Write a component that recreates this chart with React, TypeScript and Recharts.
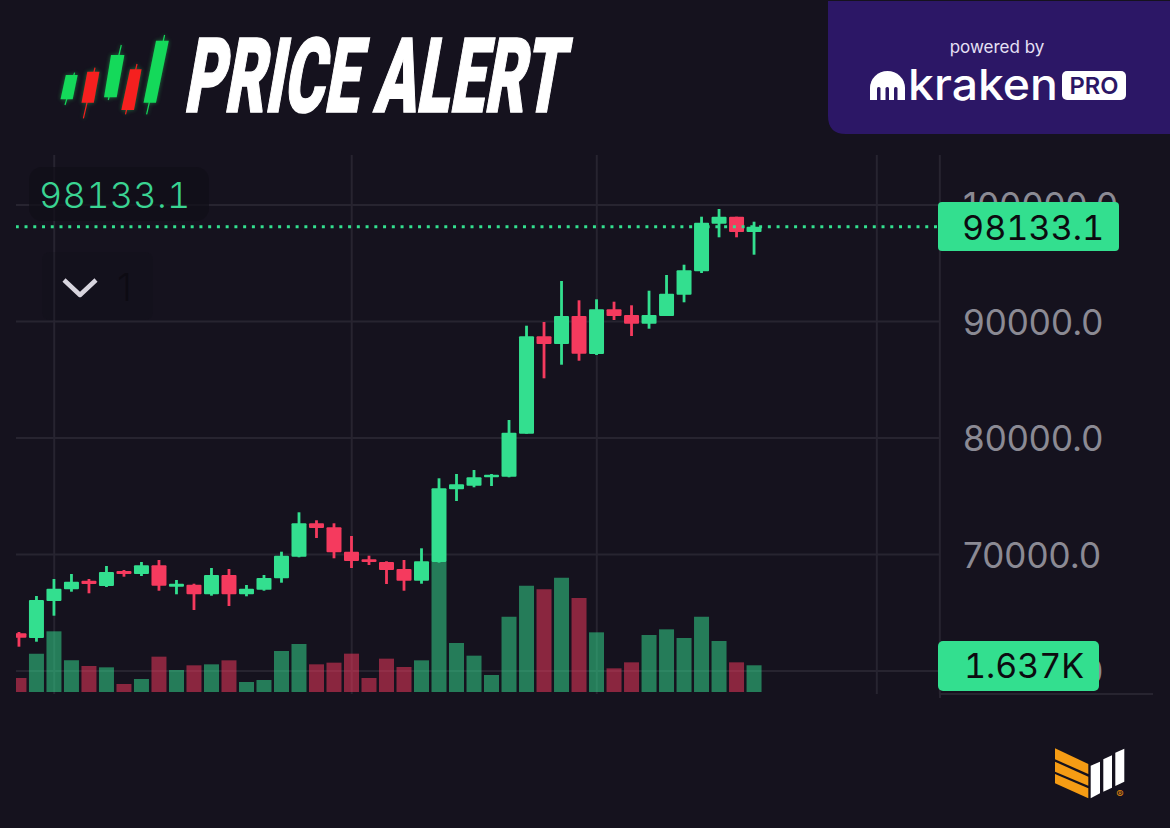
import { Bar, CartesianGrid, Cell, ComposedChart, ReferenceLine, XAxis, YAxis } from 'recharts';

const opens = [
  63235, 62831, 66007, 67011, 67750, 67295, 68583, 68325, 69072, 67235, 67406, 66583, 68239, 66583, 66977,
  67956, 69810, 72677, 72334, 70239, 69587, 69355, 68754, 67750, 69355, 75596, 75905, 76626, 76677, 80368,
  88729, 88068, 90472, 87210, 91047, 90558, 89811, 90472, 92300, 94309, 98395, 98996, 97682,
];
const highs = [
  63346, 66437, 67896, 68325, 67896, 69012, 68668, 69355, 69527, 67810, 67490, 68840, 68754, 67381, 68239,
  70239, 73621, 72935, 72677, 71587, 69896, 69415, 69527, 70531, 76540, 76909, 77252, 76909, 81544, 89639,
  89957, 93476, 91819, 91905, 91699, 91390, 92643, 93991, 94875, 98996, 99657, 98996, 98566,
];
const lows = [
  62085, 62513, 64746, 66806, 66668, 67209, 68093, 68153, 66891, 66583, 65235, 66462, 65578, 66411, 66891,
  67578, 69759, 71415, 69673, 68840, 69098, 67467, 66891, 67492, 69300, 74591, 75767, 75879, 76626, 80368,
  85124, 86291, 86635, 87124, 90128, 88755, 89382, 90472, 91648, 94163, 97227, 97227, 95734,
];
const closes = [
  62857, 66093, 67063, 67664, 67467, 68497, 68325, 69072, 67321, 67492, 66583, 68239, 66583, 67063, 67982,
  69896, 72677, 72274, 70188, 69441, 69355, 68668, 67750, 69415, 75681, 76025, 76626, 76849, 80454, 88729,
  88068, 90472, 87235, 91047, 90472, 89811, 90558, 92386, 94395, 98481, 98996, 97682, 98133.1,
];
const volumes = [
  858, 2350, 3719, 1941, 1594, 1512, 490, 797, 2166, 1349, 1635, 1696, 1941, 613, 736,
  2513, 2942, 1696, 1798, 2350, 858, 2043, 1532, 1941, 7988, 3003, 2227, 1042, 4617, 6517,
  6292, 7007, 5761, 3657, 1450, 1818, 3494, 3841, 3310, 4617, 3126, 1818, 1637,
];
const priceTicks = [60000, 70000, 80000, 90000, 100000];
const timeGrid = [2, 19, 33, 49, 52.6];
const lastPrice = 98133.1;
const lastPriceLabel = '98133.1';
const lastVolumeLabel = '1.637K';

const GREEN = '#33df8f';
const RED = '#f53a5e';
const BG = '#15121e';
const GRID = '#272430';
const PURPLE = '#2c1766';
const FONT = '"Inter", "Liberation Sans", sans-serif';
const TABULAR = { fontVariantNumeric: 'tabular-nums', fontFeatureSettings: '"tnum"' };

const rows = closes.map((close, i) => ({
  t: i,
  open: opens[i],
  high: highs[i],
  low: lows[i],
  close,
  volume: volumes[i],
  range: [lows[i], highs[i]],
}));

// wick + body, worked out from the rect that the library gives for low..high
function Candle(props: any) {
  const { x, y, width, height, payload } = props;
  const perUnit = height / (payload.high - payload.low);
  const top = y + (payload.high - Math.max(payload.open, payload.close)) * perUnit;
  const bottom = y + (payload.high - Math.min(payload.open, payload.close)) * perUnit;
  const color = payload.close >= payload.open ? GREEN : RED;
  return (
    <g>
      <rect x={x + width / 2 - 1.4} y={y} width={2.8} height={height} fill={color} />
      <rect x={x} y={top} width={width} height={Math.max(bottom - top, 2)} rx={1} fill={color} />
    </g>
  );
}

function LogoCandles() {
  const bodies = [
    { c: '#14d95a', p: '65.8,75 77.7,75 72.7,99.3 60.5,99.3', w: [74.6, 72.7, 65, 105] },
    { c: '#f5201f', p: '87.3,71.7 99.5,71.7 93.8,102.7 81.5,102.7', w: [95, 67.7, 83.4, 118.3] },
    { c: '#14d95a', p: '111,55 124.4,55 116.7,97.3 104,97.3', w: [121.3, 45, 108.3, 100] },
    { c: '#f5201f', p: '130,69.3 141.6,69.3 134,110 121.3,110', w: [137, 64, 125.5, 114.3] },
    { c: '#14d95a', p: '156,40.7 168.8,40.7 156,102.7 143.5,102.7', w: [164.6, 35, 146.6, 114.3] },
  ];
  return (
    <g style={{ filter: 'drop-shadow(0 0 2px rgba(40,230,100,0.45))' }}>
      {bodies.map((b) => (
        <g key={b.p}>
          <line x1={b.w[0]} y1={b.w[1]} x2={b.w[2]} y2={b.w[3]} stroke={b.c} strokeWidth={1.2} />
          <polygon points={b.p} fill={b.c} />
        </g>
      ))}
    </g>
  );
}

function Overlay() {
  return (
    <svg width={1170} height={828} style={{ position: 'absolute', left: 0, top: 0, pointerEvents: 'none' }}>
      {/* header */}
      <LogoCandles />
      <text
        x={0}
        y={0}
        transform="translate(183 111.5) skewX(-10)"
        fontFamily="Roboto, sans-serif"
        fontWeight={900}
        fontSize={104}
        fill="#ffffff"
        stroke="#ffffff"
        strokeWidth={1.5}
        textLength={378}
        lengthAdjust="spacingAndGlyphs"
      >
        PRICE ALERT
      </text>

      {/* kraken panel */}
      <path d="M828 1 H1170 V134 H846 Q828 134 828 116 Z" fill={PURPLE} />
      <text x={997} y={53} textAnchor="middle" fontFamily='"Inter", sans-serif' fontSize={17} fill="#e6e0f5">
        powered by
      </text>
      <path d="M870 100 V88 a17.5 17 0 0 1 35 0 V100 Z" fill="#ffffff" />
      {[877, 885.5, 894].map((x) => (
        <rect key={x} x={x} y={87} width={3.5} height={14} rx={1.5} fill={PURPLE} />
      ))}
      <text
        x={908}
        y={100}
        fontFamily='"Inter", sans-serif'
        fontSize={43}
        fontWeight={500}
        fill="#ffffff"
        textLength={150}
        lengthAdjust="spacingAndGlyphs"
      >
        kraken
      </text>
      <rect x={1062} y={71} width={64} height={29} rx={5} fill="#ffffff" />
      <text
        x={1094}
        y={94}
        textAnchor="middle"
        fontFamily='"Inter", sans-serif'
        fontWeight={600}
        fontSize={23}
        fill={PURPLE}
        textLength={49}
        lengthAdjust="spacingAndGlyphs"
      >
        PRO
      </text>

      {/* top-left legend */}
      <rect x={29} y={167} width={180} height={54} rx={13} fill="#100e17" fillOpacity={0.72} />
      <text x={39} y={208} fontFamily={FONT} fontWeight={300} fontSize={36} letterSpacing={0.3} fill="#3ad492" style={TABULAR}>
        {lastPriceLabel}
      </text>
      <rect x={42} y={252} width={111} height={68} rx={8} fill="#100e17" fillOpacity={0.25} />
      <path d="M64 280 L80 295 L96 280" fill="none" stroke="#d8d5de" strokeWidth={4.5} strokeLinejoin="round" />
      <text x={117} y={301} fontFamily={FONT} fontWeight={300} fontSize={38} fill="#0d0b13">
        1
      </text>

      {/* axis tail on the right */}
      <line x1={940} y1={694} x2={1153} y2={694} stroke={GRID} strokeWidth={2} />
      <line x1={940} y1={694} x2={940} y2={698} stroke={GRID} strokeWidth={2} />

      {/* last value badges */}
      <rect x={938} y={202} width={181} height={49} rx={4} fill={GREEN} />
      <text x={962} y={240} fontFamily={FONT} fontSize={34.2} fill="#0c0b10" style={TABULAR}>
        {lastPriceLabel}
      </text>
      <rect x={938} y={641} width={161} height={50} rx={5} fill={GREEN} />
      <text x={964} y={678} fontFamily={FONT} fontSize={34} fill="#0c0b10" style={TABULAR}>
        {lastVolumeLabel}
      </text>

      {/* corner logo */}
      <polygon points="1055,748.3 1088.3,764 1088.3,774 1055,759.3" fill="#f59c14" />
      <polygon points="1055,761.7 1088.3,776.7 1088.3,785.7 1055,771.7" fill="#f59c14" />
      <polygon points="1055,774 1088.3,788.3 1088.3,798.3 1055,783.3" fill="#f59c14" />
      <polygon points="1090.7,765.7 1100,761.7 1100,793.3 1090.7,798.3" fill="#ffffff" />
      <polygon points="1103.3,759.3 1112,755.3 1112,787.7 1103.3,791.7" fill="#ffffff" />
      <polygon points="1115.3,752.7 1124.3,748.7 1124.3,781.7 1115.3,786" fill="#ffffff" />
      <text x={1120} y={798} textAnchor="middle" fontFamily={FONT} fontSize={11} fill="#e08a10">
        ®
      </text>
    </svg>
  );
}

export default function App() {
  return (
    <div style={{ position: 'absolute', left: 0, top: 0, width: 1170, height: 828, background: BG, overflow: 'hidden' }}>
      <ComposedChart
        width={1170}
        height={828}
        data={rows}
        margin={{ top: 155, right: 0, bottom: 134, left: 16 }}
      >
        <CartesianGrid stroke={GRID} strokeWidth={2} syncWithTicks />
        <XAxis
          dataKey="t"
          type="number"
          domain={[-0.183, 52.61]}
          allowDataOverflow
          ticks={timeGrid}
          interval={0}
          tick={{ fill: 'transparent', fontSize: 1 }}
          tickLine={false}
          height={0}
          axisLine={{ stroke: GRID, strokeWidth: 2 }}
        />
        <XAxis xAxisId="vol" dataKey="t" type="number" domain={[-0.183, 52.61]} allowDataOverflow hide />
        <YAxis
          orientation="right"
          width={230}
          domain={[58024, 104292]}
          allowDataOverflow
          ticks={priceTicks}
          interval={0}
          tickFormatter={(v: number) => v.toFixed(1)}
          tick={{ fill: '#8b8a94', fontSize: 35, fontFamily: FONT, dy: 1 }}
          tickSize={0}
          tickMargin={23}
          axisLine={false}
        />
        <YAxis yAxisId="vol" domain={[-123, 32918]} allowDataOverflow hide />
        <ReferenceLine y={lastPrice} stroke={GREEN} strokeWidth={3} strokeDasharray="3 5.745" strokeDashoffset={-3} />
        <Bar dataKey="range" barSize={15} shape={Candle} isAnimationActive={false} />
        <Bar dataKey="volume" xAxisId="vol" yAxisId="vol" barSize={15} fillOpacity={0.52} isAnimationActive={false}>
          {rows.map((r) => (
            <Cell key={r.t} fill={r.close >= r.open ? GREEN : RED} />
          ))}
        </Bar>
      </ComposedChart>
      <Overlay />
    </div>
  );
}
